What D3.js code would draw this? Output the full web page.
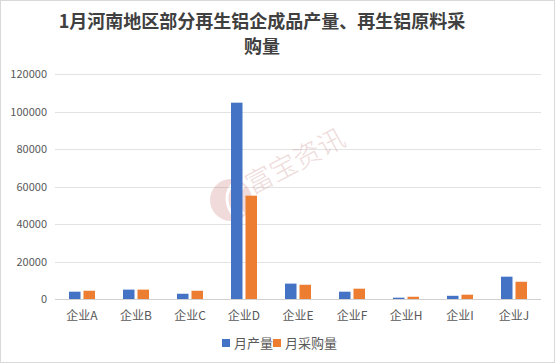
<!DOCTYPE html>
<html>
<head>
<meta charset="utf-8">
<script src="https://d3js.org/d3.v7.min.js"></script>
<style>
	body { margin: 0; background: #fff; }
	svg text { font-family: "Noto Sans CJK SC", "Noto Sans", sans-serif; }
</style>
</head>
<body>
<div id="chart"></div>
<script>
// data
var companies = ["企业A", "企业B", "企业C", "企业D", "企业E", "企业F", "企业H", "企业I", "企业J"];
var output = [3900, 5000, 2800, 104700, 8200, 3900, 700, 1700, 11900];     // 月产量
var purchase = [4400, 5000, 4400, 55100, 7600, 5500, 1200, 2300, 9200];    // 月采购量
var seriesNames = ["月产量", "月采购量"];
var yTicks = [0, 20000, 40000, 60000, 80000, 100000, 120000];
var colors = ["#4472C4", "#ED7D31"];

var W = 555, H = 363;
var svg = d3.select("#chart").append("svg").attr("width", W).attr("height", H);

svg.append("rect").attr("x", 0.5).attr("y", 0.5).attr("width", W - 1).attr("height", H - 1)
	.attr("fill", "#fff").attr("stroke", "#d9d9d9");

// title, two lines
svg.append("text").attr("x", 262).attr("y", 28).attr("text-anchor", "middle").attr("fill", "#404040")
	.attr("font-size", 18).attr("font-weight", "bold")
	.text("1月河南地区部分再生铝企成品产量、再生铝原料采");
svg.append("text").attr("x", 262).attr("y", 53).attr("text-anchor", "middle").attr("fill", "#404040")
	.attr("font-size", 18).attr("font-weight", "bold")
	.text("购量");

var x = d3.scaleBand().domain(companies).range([55, 541]);
var y = d3.scaleLinear().domain([0, 120000]).range([299, 74]);

// grid
svg.append("g").selectAll("line").data(yTicks).enter().append("line")
	.attr("x1", 55).attr("x2", 541)
	.attr("y1", function(d) { return Math.round(y(d)) + 0.5; })
	.attr("y2", function(d) { return Math.round(y(d)) + 0.5; })
	.attr("stroke", function(d) { return d === 0 ? "#d0d0d0" : "#e3e3e3"; })
	.attr("stroke-width", 1);

// y labels
svg.append("g").selectAll("text").data(yTicks).enter().append("text")
	.attr("x", 47).attr("y", function(d) { return y(d) + 4; })
	.attr("text-anchor", "end").attr("font-size", 11).attr("fill", "#595959")
	.text(function(d) { return d; });

// watermark
var wm = svg.append("g").attr("opacity", 0.2);
wm.append("circle").attr("cx", 231).attr("cy", 200).attr("r", 21).attr("fill", "#b84a4a");
wm.append("path").attr("d", "M236,181 C222,192 226,208 236,219").attr("fill", "none").attr("stroke", "#fff").attr("stroke-width", 3);
wm.append("path").attr("d", "M244,186 C234,196 238,208 244,214").attr("fill", "none").attr("stroke", "#fff").attr("stroke-width", 2.5);
svg.append("text").attr("transform", "translate(252,195) rotate(-28)")
	.attr("font-size", 27).attr("font-weight", 300).attr("fill", "#c98a8a").attr("opacity", 0.3)
	.text("富宝资讯");

// bars
var groups = svg.append("g").selectAll("g").data(companies).enter().append("g")
	.attr("transform", function(d) { return "translate(" + x(d) + ",0)"; });
var barW = 11.5, gap = 3;
[output, purchase].forEach(function(vals, s) {
	groups.append("rect")
		.attr("x", function(d) { return x.bandwidth() / 2 - barW - gap / 2 + s * (barW + gap); })
		.attr("y", function(d, i) { return y(vals[i]); })
		.attr("width", barW)
		.attr("height", function(d, i) { return y(0) - y(vals[i]); })
		.attr("fill", colors[s]);
});

// x labels
svg.append("g").selectAll("text").data(companies).enter().append("text")
	.attr("x", function(d) { return x(d) + x.bandwidth() / 2; })
	.attr("y", 320).attr("text-anchor", "middle")
	.attr("font-size", 12).attr("fill", "#595959")
	.text(function(d) { return d; });

// legend
var lx = [222, 273];
seriesNames.forEach(function(n, i) {
	svg.append("rect").attr("x", lx[i]).attr("y", 339).attr("width", 8).attr("height", 8).attr("fill", colors[i]);
	svg.append("text").attr("x", lx[i] + 12).attr("y", 348).attr("font-size", 13).attr("fill", "#595959").text(n);
});
</script>
</body>
</html>
